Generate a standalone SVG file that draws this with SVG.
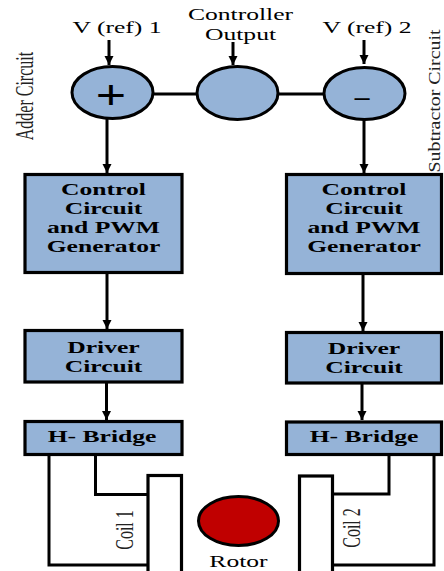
<svg xmlns="http://www.w3.org/2000/svg" width="444" height="571" viewBox="0 0 444 571">
  <style>
    .box { fill: #95B3D7; stroke: #000; stroke-width: 3.2; }
    .sum { fill: #95B3D7; stroke: #000; stroke-width: 3; }
    .wire { fill: none; stroke: #000; stroke-width: 3; }
    .arrow { fill: none; stroke: #000; stroke-width: 3; marker-end: url(#head); }
    .coil { fill: #fff; stroke: #000; stroke-width: 3.2; }
    .lbl { font-family: "Liberation Serif", "Times New Roman", serif; font-size: 16px; fill: #000; text-anchor: middle; }
    .blk { font-family: "Liberation Serif", "Times New Roman", serif; font-size: 16px; font-weight: bold; fill: #000; text-anchor: middle; }
    .side { font-family: "Liberation Serif", "Times New Roman", serif; font-size: 16px; fill: #222; text-anchor: middle; }
    .sign { font-family: "Liberation Sans", Arial, sans-serif; fill: #000; text-anchor: middle; }
  </style>
  <defs>
    <marker id="head" viewBox="0 0 10 10" refX="10" refY="5" markerWidth="9" markerHeight="10" markerUnits="userSpaceOnUse" orient="auto">
      <path d="M0,0 L10,5 L0,10 Z" fill="#000"/>
    </marker>
  </defs>

  <!-- side captions -->
  <text class="side" transform="translate(33,96) scale(1.6,1) rotate(-90)">Adder Circuit</text>
  <text class="side" transform="translate(439.5,101) scale(1.05,1) rotate(-90)" textLength="143" lengthAdjust="spacingAndGlyphs">Subtractor Circuit</text>

  <!-- input labels -->
  <text class="lbl" transform="translate(117,33) scale(1.6,1)">V (ref) 1</text>
  <text class="lbl" transform="translate(240.5,19.5) scale(1.6,1)">Controller</text>
  <text class="lbl" transform="translate(240.5,39.5) scale(1.6,1)">Output</text>
  <text class="lbl" transform="translate(367,33) scale(1.6,1)">V (ref) 2</text>

  <!-- connectors -->
  <g id="connectors">
    <line class="arrow" x1="109" y1="40" x2="109" y2="65"/>
    <line class="arrow" x1="233" y1="42" x2="233" y2="65"/>
    <line class="arrow" x1="364" y1="40" x2="364" y2="64"/>
    <line class="wire" x1="153" y1="94" x2="197" y2="94"/>
    <line class="wire" x1="278" y1="94" x2="324" y2="94"/>
    <line class="arrow" x1="107" y1="119" x2="107" y2="173"/>
    <line class="arrow" x1="364" y1="119" x2="364" y2="173"/>
    <line class="arrow" x1="107" y1="274" x2="107" y2="329"/>
    <line class="arrow" x1="363" y1="275" x2="363" y2="331"/>
    <line class="arrow" x1="106.5" y1="383" x2="106.5" y2="420"/>
    <line class="arrow" x1="362" y1="384" x2="362" y2="420"/>
    <!-- H-bridge outputs to the coils -->
    <polyline class="wire" points="49,455 49,565 148,565"/>
    <polyline class="wire" points="95.5,455 95.5,494.5 148,494.5"/>
    <polyline class="wire" points="389,455 389,494 333,494"/>
    <polyline class="wire" points="434,455 434,565 333,565"/>
  </g>

  <!-- summing junctions -->
  <g id="adder">
    <ellipse class="sum" cx="112.5" cy="92.5" rx="40.5" ry="26"/>
    <text class="sign" font-size="40" transform="translate(111,109) scale(1.3,1)">+</text>
  </g>
  <g id="controller-output">
    <ellipse class="sum" cx="237.5" cy="93" rx="40.5" ry="26.5"/>
  </g>
  <g id="subtractor">
    <ellipse class="sum" cx="364.5" cy="93.5" rx="40.5" ry="26"/>
    <text class="sign" font-size="26" transform="translate(362,106) scale(1.05,1)">–</text>
  </g>

  <!-- left channel -->
  <g id="control-1">
    <rect class="box" x="25" y="174.5" width="157" height="98"/>
    <text class="blk" transform="translate(103.5,195) scale(1.6,1)">Control</text>
    <text class="blk" transform="translate(103.5,214) scale(1.6,1)">Circuit</text>
    <text class="blk" transform="translate(103.5,233) scale(1.6,1)">and PWM</text>
    <text class="blk" transform="translate(103.5,252) scale(1.6,1)">Generator</text>
  </g>
  <g id="driver-1">
    <rect class="box" x="25" y="330.5" width="157" height="51.5"/>
    <text class="blk" transform="translate(103.5,353) scale(1.6,1)">Driver</text>
    <text class="blk" transform="translate(103.5,372) scale(1.6,1)">Circuit</text>
  </g>
  <g id="hbridge-1">
    <rect class="box" x="25" y="421.5" width="157" height="33"/>
    <text class="blk" transform="translate(102,442) scale(1.6,1)">H- Bridge</text>
  </g>
  <g id="coil-1">
    <rect class="coil" x="148" y="475.5" width="33.5" height="110"/>
    <text class="side" transform="translate(133,530) scale(1.6,1) rotate(-90)">Coil 1</text>
  </g>

  <!-- right channel -->
  <g id="control-2">
    <rect class="box" x="286.5" y="174.5" width="155" height="99"/>
    <text class="blk" transform="translate(364,195) scale(1.6,1)">Control</text>
    <text class="blk" transform="translate(364,214) scale(1.6,1)">Circuit</text>
    <text class="blk" transform="translate(364,233) scale(1.6,1)">and PWM</text>
    <text class="blk" transform="translate(364,252) scale(1.6,1)">Generator</text>
  </g>
  <g id="driver-2">
    <rect class="box" x="286.5" y="332.5" width="155" height="50.5"/>
    <text class="blk" transform="translate(364,354) scale(1.6,1)">Driver</text>
    <text class="blk" transform="translate(364,373) scale(1.6,1)">Circuit</text>
  </g>
  <g id="hbridge-2">
    <rect class="box" x="286.5" y="422" width="155" height="32.5"/>
    <text class="blk" transform="translate(364,442) scale(1.6,1)">H- Bridge</text>
  </g>
  <g id="coil-2">
    <rect class="coil" x="299.5" y="476" width="33" height="110"/>
    <text class="side" transform="translate(360,528) scale(1.6,1) rotate(-90)">Coil 2</text>
  </g>

  <!-- rotor -->
  <g id="rotor">
    <ellipse cx="238.5" cy="521" rx="40" ry="24.5" fill="#C00000" stroke="#000" stroke-width="3"/>
    <text class="lbl" transform="translate(238.5,567) scale(1.6,1)">Rotor</text>
  </g>
</svg>
